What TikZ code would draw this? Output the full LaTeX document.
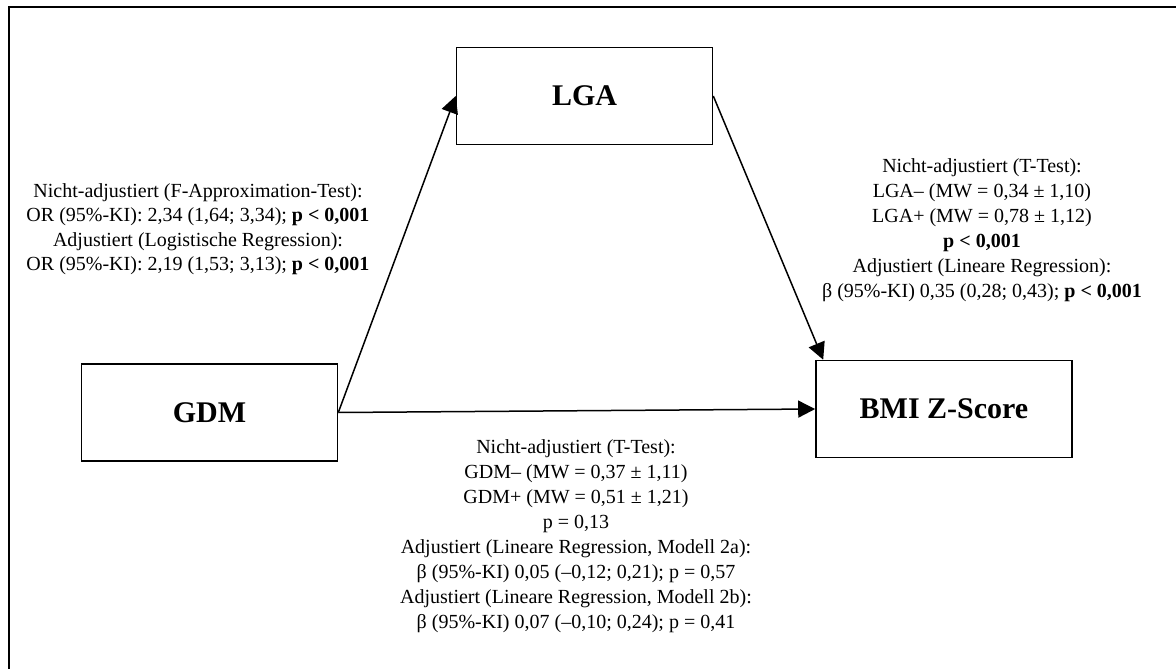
\documentclass[tikz,border=0pt]{standalone}
\usepackage{fontspec}
\setmainfont{Liberation Serif}
\usetikzlibrary{arrows.meta}
\begin{document}
\begin{tikzpicture}[x=1pt,y=-1pt,
  box/.style={draw, line width=1.6pt, minimum width=256pt, minimum height=97pt, inner sep=0pt, font=\fontsize{30}{36}\selectfont\bfseries},
  lbl/.style={align=center, inner sep=0pt, font=\fontsize{20}{25}\selectfont},
  conn/.style={line width=1.5pt, -{Triangle[length=17pt,width=17pt]}}]
\useasboundingbox (0,0) rectangle (1176,669);
\draw[line width=2.5pt] (9,669) -- (9,7) -- (1176,7);
\node[box] (lga) at (584.5,96) {LGA};
\node[box] (gdm) at (209.5,412.5) {GDM};
\node[box] (bmi) at (944,409) {BMI Z-Score};
\draw[conn] (gdm.east) -- (lga.west);
\draw[conn] (gdm.east) -- (bmi.west);
\draw[conn] (lga.east) -- ([xshift=8pt]bmi.north west);
\node[lbl, font=\fontsize{20}{24.5}\selectfont] (lblA) at (198,229) {Nicht-adjustiert (F-Approximation-Test):\\
OR (95\%-KI): 2,34 (1,64; 3,34); \textbf{p < 0,001}\\
Adjustiert (Logistische Regression):\\
OR (95\%-KI): 2,19 (1,53; 3,13); \textbf{p < 0,001}};
\node[lbl] (lblB) at (982,230) {Nicht-adjustiert (T-Test):\\
LGA– (MW = 0,34 ± 1,10)\\
LGA+ (MW = 0,78 ± 1,12)\\
\textbf{p < 0,001}\\
Adjustiert (Lineare Regression):\\
β (95\%-KI) 0,35 (0,28; 0,43); \textbf{p < 0,001}};
\node[lbl] (lblC) at (576,536) {Nicht-adjustiert (T-Test):\\
GDM– (MW = 0,37 ± 1,11)\\
GDM+ (MW = 0,51 ± 1,21)\\
p = 0,13\\
Adjustiert (Lineare Regression, Modell 2a):\\
β (95\%-KI) 0,05 (–0,12; 0,21); p = 0,57\\
Adjustiert (Lineare Regression, Modell 2b):\\
β (95\%-KI) 0,07 (–0,10; 0,24); p = 0,41};
\end{tikzpicture}
\end{document}
